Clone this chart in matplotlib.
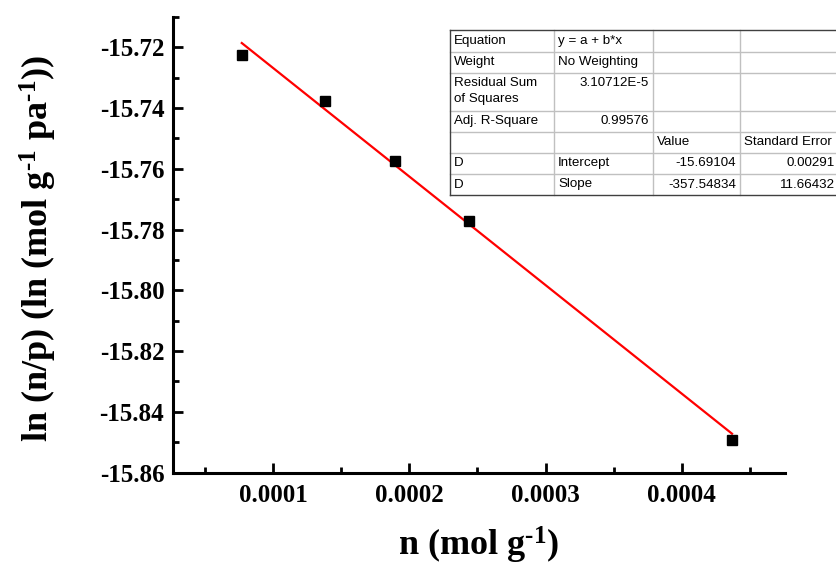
import matplotlib
matplotlib.use("Agg")
import matplotlib.pyplot as plt
from matplotlib.ticker import MultipleLocator, StrMethodFormatter
from matplotlib.lines import Line2D

plt.rcParams['font.family'] = 'Liberation Serif'
plt.rcParams['font.weight'] = 'bold'
plt.rcParams['axes.unicode_minus'] = False
plt.rcParams['mathtext.fontset'] = 'custom'
plt.rcParams['mathtext.rm'] = 'Liberation Serif:bold'
plt.rcParams['mathtext.bf'] = 'Liberation Serif:bold'
plt.rcParams['mathtext.it'] = 'Liberation Serif:bold'

# measured points
n_vals = [0.0000770, 0.0001382, 0.0001897, 0.0002441, 0.0004368]
ln_np = [-15.7225, -15.7376, -15.7574, -15.7771, -15.8493]

# linear fit results
intercept = -15.69104
slope = -357.54834

table_rows = [
    ["Equation", "y = a + b*x", "", ""],
    ["Weight", "No Weighting", "", ""],
    ["Residual Sum\nof Squares", "3.10712E-5", "", ""],
    ["Adj. R-Square", "0.99576", "", ""],
    ["", "", "Value", "Standard Error"],
    ["D", "Intercept", "-15.69104", "0.00291"],
    ["D", "Slope", "-357.54834", "11.66432"],
]
right_aligned = {(2, 1), (3, 1), (5, 2), (5, 3), (6, 2), (6, 3)}

W, H = 837, 565
fig = plt.figure(figsize=(W / 100, H / 100), dpi=100)
ax = fig.add_axes([172.7 / W, 1 - 472.5 / H, (785 - 172.7) / W, (472.5 - 16.7) / H])

ax.plot(n_vals, ln_np, 's', color='black', markersize=7.5, zorder=3)
x_fit = [n_vals[0], n_vals[-1]]
y_fit = [intercept + slope * x for x in x_fit]
ax.plot(x_fit, y_fit, color='red', linewidth=1.6, zorder=2)

ax.set_xlim(0.0000263, 0.0004757)
ax.set_ylim(-15.86, -15.7099)

ax.xaxis.set_major_locator(MultipleLocator(0.0001))
ax.xaxis.set_minor_locator(MultipleLocator(0.00005))
ax.yaxis.set_major_locator(MultipleLocator(0.02))
ax.yaxis.set_minor_locator(MultipleLocator(0.01))
ax.xaxis.set_major_formatter(StrMethodFormatter('{x:.4f}'))
ax.yaxis.set_major_formatter(StrMethodFormatter('{x:.2f}'))

for side in ['top', 'right']:
    ax.spines[side].set_visible(False)
for side in ['left', 'bottom']:
    ax.spines[side].set_linewidth(2.2)

ax.tick_params(which='major', direction='in', length=7, width=2, labelsize=18)
ax.tick_params(which='minor', direction='in', length=4, width=2)
ax.tick_params(axis='x', which='major', pad=8)
ax.tick_params(axis='y', which='major', pad=6)

fig.text(479 / W, 1 - 556 / H, r'n (mol g$^{\text{-1}}$)', fontsize=26,
         ha='center', va='baseline', fontweight='bold')
fig.text(38 / W, 1 - 248 / H, r'ln (n/p) (ln (mol g$^{\text{-1}}$ pa$^{\text{-1}}$))',
         fontsize=26, ha='center', va='center', rotation=90, fontweight='bold')

# fit summary table drawn in pixel positions
col_x = [450, 554, 653, 740, 843]
row_y = [30, 51.7, 72.7, 110.7, 131.7, 152.7, 174, 195]


def fx(px):
    return px / W


def fy(py):
    return 1 - py / H


fig.add_artist(plt.Rectangle((fx(450), fy(195)), fx(843) - fx(450), fy(30) - fy(195),
                             transform=fig.transFigure, facecolor='white',
                             edgecolor='none', zorder=4))
for y in row_y[1:-1]:
    fig.add_artist(Line2D([fx(450), fx(843)], [fy(y), fy(y)], color='#c0c0c0', lw=1.0, zorder=5))
for x in col_x[1:-1]:
    fig.add_artist(Line2D([fx(x), fx(x)], [fy(30), fy(195)], color='#c0c0c0', lw=1.0, zorder=5))
for y in [row_y[0], row_y[-1]]:
    fig.add_artist(Line2D([fx(450), fx(843)], [fy(y), fy(y)], color='#404040', lw=1.0, zorder=6))
fig.add_artist(Line2D([fx(450), fx(450)], [fy(30), fy(195)], color='#404040', lw=1.0, zorder=6))

for r, row in enumerate(table_rows):
    for c, txt in enumerate(row):
        if not txt:
            continue
        if (r, c) in right_aligned:
            xp, ha = min(col_x[c + 1] - 4, 835), 'right'
        else:
            xp, ha = col_x[c] + 4, 'left'
        if r == 2:
            # tall row: text sits from the top of the cell
            yp, va = row_y[r] + 4, 'top'
        else:
            yp, va = (row_y[r] + row_y[r + 1]) / 2, 'center'
        fig.text(fx(xp), fy(yp), txt, fontsize=9.6, family='Liberation Sans',
                 fontweight='normal', ha=ha, va=va, linespacing=1.5, zorder=7)

fig.savefig('out.png', dpi=100)
